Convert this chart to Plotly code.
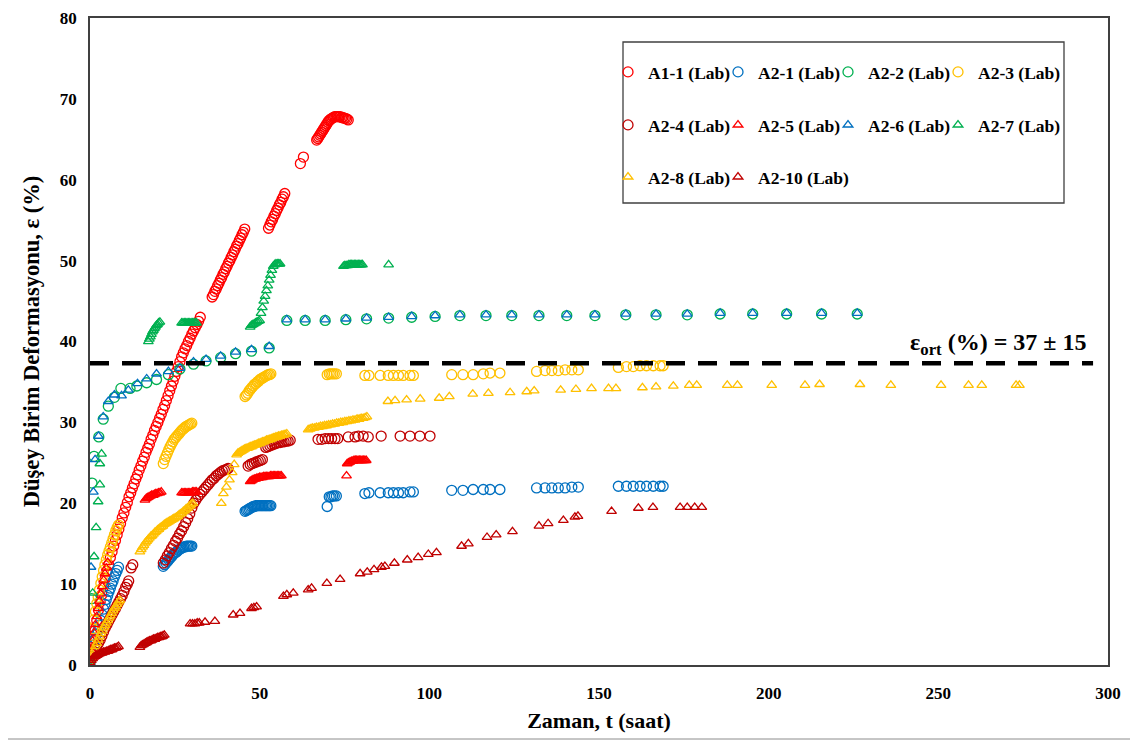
import plotly.graph_objects as go

# ---------------- data ----------------
# A1-1 (Lab) - red open circles
A1_1_X = [0, 0.5, 1, 1.5, 2, 2.5, 3, 3.5, 4, 4.5, 5, 5.5, 6, 6.5, 7, 7.5, 8, 8.5, 9, 9.5, 10, 10.5, 11, 11.5,
          12, 12.5, 13, 13.5, 14, 14.5, 15, 15.5, 16, 16.5, 17, 17.5, 18, 18.5, 19, 19.5, 20, 20.5, 21, 21.5,
          22, 22.5, 23, 23.5, 24, 24.5, 25, 25.5, 26, 26.5, 27, 27.5, 28, 28.5, 29, 29.5, 30, 30.5, 31, 31.5,
          32, 32.5,
          36.0, 36.4, 36.8, 37.2, 37.6, 38.0, 38.4, 38.8, 39.2, 39.6, 40.0, 40.4, 40.8, 41.2, 41.6, 42.0, 42.4,
          42.8, 43.2, 43.6, 44.0, 44.4, 44.8, 45.2, 45.6,
          52.6, 53.0, 53.4, 53.8, 54.2, 54.6, 55.0, 55.4, 55.8, 56.2, 56.6, 57.0, 57.4,
          62.0, 62.9,
          66.8, 67.1, 67.4, 67.7, 68.0, 68.3, 68.6, 68.9, 69.2, 69.5, 69.8, 70.1, 70.4, 70.7, 71.0, 71.3, 71.7,
          72.1, 72.5, 72.9, 73.3, 73.7, 74.1, 74.5, 74.9, 75.3, 75.7, 76.1]
A1_1_Y = [0.5, 1.8, 3.0, 4.3, 5.5, 6.8, 7.8, 8.7, 9.7, 10.7, 11.6, 12.4, 13.3, 14.0, 14.7, 15.4, 16.1, 16.8, 17.5,
          18.2, 18.8, 19.5, 20.1, 20.8, 21.3, 21.9, 22.4, 23.0, 23.5, 24.1, 24.6, 25.2, 25.7, 26.3, 26.8, 27.3,
          27.9, 28.4, 29.0, 29.5, 30.0, 30.5, 31.0, 31.6, 32.1, 32.7, 33.3, 33.9, 34.5, 35.1, 35.7, 36.3, 36.9,
          37.5, 38.1, 38.6, 39.1, 39.5, 40.0, 40.4, 40.9, 41.3, 41.7, 42.1, 42.5, 43.0,
          45.5, 45.8, 46.2, 46.5, 46.9, 47.2, 47.6, 47.9, 48.3, 48.6, 49.0, 49.3, 49.7, 50.0, 50.4, 50.7, 51.1,
          51.4, 51.8, 52.1, 52.5, 52.8, 53.2, 53.5, 53.9,
          54.0, 54.4, 54.8, 55.1, 55.5, 55.8, 56.2, 56.5, 56.9, 57.2, 57.6, 57.9, 58.3,
          62.0, 62.8,
          64.9, 65.1, 65.3, 65.5, 65.7, 65.9, 66.1, 66.3, 66.5, 66.7, 66.9, 67.1, 67.3, 67.4, 67.5, 67.6, 67.7,
          67.8, 67.8, 67.8, 67.8, 67.8, 67.7, 67.7, 67.6, 67.6, 67.5, 67.4]

# A2-1 (Lab) - blue open circles
A2_1_X = [0, 0.4, 0.8, 1.2, 1.6, 2.0, 2.4, 2.8, 3.2, 3.6, 4.0, 4.4, 4.8, 5.2, 5.6, 6.0, 6.4, 6.8, 7.2, 7.6, 8.0, 8.4,
          21.6, 22.0, 22.4, 22.8, 23.2, 23.6, 24.0, 24.4, 24.8, 25.2, 25.6, 26.0, 26.4, 26.8, 27.2, 27.6, 28.0,
          28.4, 28.8, 29.2, 29.6, 30.0,
          45.7, 46.1, 46.5, 46.9, 47.3, 47.7, 48.1, 48.5, 48.9, 49.3, 49.7, 50.1, 50.5, 50.9, 51.3, 51.7, 52.1,
          52.5, 52.9, 53.3,
          69.9, 70.5, 71.0, 71.5, 72.0, 72.6, 81.0, 82.2,
          85.5, 87.9, 89.4, 90.9, 92.3, 94.3, 95.3,
          106.6, 109.9, 112.9, 115.9, 117.9, 120.8,
          131.6, 134.1, 136.1, 138.0, 140.0, 142.0, 143.9,
          155.7, 158.1, 160.1, 162.1, 164.0, 166.0, 168.0, 168.9]
A2_1_Y = [0.3, 1.0, 1.7, 2.5, 3.2, 3.8, 4.3, 4.9, 5.5, 6.2, 6.9, 7.5, 8.1, 8.6, 9.1, 9.5, 10.0, 10.4, 10.9, 11.3,
          11.7, 12.1,
          12.2, 12.4, 12.6, 12.8, 13.0, 13.2, 13.4, 13.6, 13.8, 13.9, 14.0, 14.2, 14.3, 14.4, 14.5, 14.6, 14.6,
          14.7, 14.7, 14.7, 14.7, 14.7,
          19.0, 19.1, 19.2, 19.3, 19.4, 19.5, 19.6, 19.6, 19.7, 19.7, 19.7, 19.7, 19.7, 19.7, 19.7, 19.7, 19.7,
          19.7, 19.7, 19.7,
          19.6, 20.8, 20.8, 20.9, 20.9, 20.9, 21.2, 21.3,
          21.3, 21.3, 21.3, 21.3, 21.3, 21.4, 21.4,
          21.6, 21.6, 21.7, 21.7, 21.7, 21.7,
          21.9, 21.9, 21.9, 21.9, 21.9, 22.0, 22.0,
          22.1, 22.1, 22.1, 22.1, 22.1, 22.1, 22.1, 22.1]

# A2-2 (Lab) - green open circles
A2_2_X = [0, 0.5, 0.6, 1.2, 2.6, 3.9, 5.4, 7.2, 9.1, 11.8, 13.8, 16.7, 19.6, 23.1, 26.5, 30.5, 34.2, 38.5, 42.9,
          47.6, 52.8,
          58.0, 63.4, 69.3, 75.4, 81.5, 88.0, 94.8, 101.7, 109.0, 116.7, 124.3, 132.3, 140.5, 148.8, 157.9,
          166.8, 176.0, 185.7, 195.3, 205.3, 215.6, 226.1]
A2_2_Y = [0.5, 8.2, 22.5, 25.8, 28.2, 30.4, 32.0, 33.1, 34.2, 34.2, 34.5, 34.9, 35.3, 35.9, 36.6, 37.2, 37.6, 38.0,
          38.5, 38.8, 39.2,
          42.6, 42.6, 42.6, 42.7, 42.8, 42.9, 43.0, 43.1, 43.2, 43.2, 43.2, 43.2, 43.2, 43.2, 43.3, 43.3, 43.3,
          43.4, 43.4, 43.4, 43.4, 43.4]

# A2-3 (Lab) - gold open circles
A2_3_X = [0, 0.4, 0.8, 1.2, 1.6, 2.0, 2.4, 2.8, 3.2, 3.6, 4.0, 4.4, 4.8, 5.2, 5.6, 6.0, 6.4, 6.8, 7.2, 7.6, 8.0, 8.4,
          21.6, 22.0, 22.4, 22.8, 23.2, 23.6, 24.0, 24.4, 24.8, 25.2, 25.6, 26.0, 26.4, 26.8, 27.2, 27.6, 28.0,
          28.4, 28.8, 29.2, 29.6, 30.0,
          45.7, 46.1, 46.5, 46.9, 47.3, 47.7, 48.1, 48.5, 48.9, 49.3, 49.7, 50.1, 50.5, 50.9, 51.3, 51.7, 52.1,
          52.5, 52.9, 53.3,
          69.9, 70.5, 71.0, 71.5, 72.0, 72.6, 81.0, 82.2,
          85.5, 87.9, 89.4, 90.9, 92.3, 94.3, 95.3,
          106.6, 109.9, 112.9, 115.9, 117.9, 120.8,
          131.6, 134.1, 136.1, 138.0, 140.0, 142.0, 143.9,
          155.7, 158.1, 160.1, 162.1, 164.0, 166.0, 168.0, 168.9]
A2_3_Y = [0.5, 2.5, 4.5, 5.6, 6.6, 7.6, 8.4, 9.3, 10.1, 10.9, 11.7, 12.4, 13.0, 13.6, 14.1, 14.6, 15.1, 15.6, 16.1,
          16.6, 17.0, 17.3,
          24.9, 25.4, 25.8, 26.2, 26.6, 27.0, 27.3, 27.6, 27.9, 28.1, 28.3, 28.5, 28.7, 28.9, 29.1, 29.2, 29.4,
          29.5, 29.6, 29.7, 29.8, 29.9,
          33.2, 33.4, 33.6, 33.9, 34.1, 34.3, 34.5, 34.7, 34.8, 35.0, 35.1, 35.3, 35.4, 35.5, 35.6, 35.7, 35.8,
          35.9, 35.9, 36.0,
          35.9, 36.0, 36.0, 36.0, 36.0, 36.0, 35.8, 35.8,
          35.8, 35.8, 35.8, 35.8, 35.8, 35.8, 35.8,
          35.9, 35.9, 35.9, 36.0, 36.1, 36.1,
          36.3, 36.4, 36.4, 36.4, 36.5, 36.5, 36.5,
          36.8, 36.9, 36.9, 37.0, 37.0, 37.0, 37.0, 37.0]

# A2-4 (Lab) - dark red open circles
A2_4_X = [0, 0.5, 1.0, 1.5, 2.0, 2.5, 3.0, 3.5, 4.0, 4.5, 5.0, 5.5, 6.0, 6.5, 7.0, 7.5, 8.0, 8.5, 9.0, 9.5, 10.0,
          10.5, 11.0, 11.4, 12.1, 12.6,
          21.6, 22.2, 22.8, 23.4, 24.0, 24.6, 25.2, 25.8, 26.4, 27.0, 27.6, 28.2, 28.8, 29.4, 30.0, 30.6, 31.2,
          31.8, 32.4, 33.0, 33.6, 34.2, 34.8, 35.4, 36.0, 36.6, 37.2, 37.8, 38.4, 39.0, 39.6, 40.2, 40.7,
          46.6, 47.2, 47.8, 48.4, 49.0, 49.6, 50.2, 50.8, 51.8, 52.4, 53.0, 53.6, 54.2, 54.8, 55.4, 56.0, 56.6,
          57.2, 57.8, 58.4, 59.0,
          67.2, 68.3, 69.3, 70.3, 71.2, 72.2, 73.0,
          76.1, 78.1, 79.1, 80.5, 82.0,
          85.8, 91.4, 94.3, 97.2, 100.2]
A2_4_Y = [0.5, 1.0, 1.5, 2.0, 2.4, 2.7, 3.1, 3.6, 4.1, 4.6, 5.0, 5.4, 5.8, 6.2, 6.6, 7.0, 7.4, 7.8, 8.2, 8.6, 9.1,
          9.6, 10.0, 10.4, 12.0, 12.4,
          12.6, 13.0, 13.5, 13.9, 14.4, 14.8, 15.3, 15.7, 16.2, 16.6, 17.1, 17.6, 18.1, 18.7, 19.4, 20.0, 20.4,
          20.8, 21.1, 21.4, 21.7, 22.0, 22.3, 22.6, 22.9, 23.1, 23.4, 23.6, 23.8, 24.0, 24.1, 24.2, 24.3,
          24.6, 24.8, 24.9, 25.0, 25.1, 25.2, 25.3, 25.4, 26.9, 27.0, 27.1, 27.2, 27.3, 27.4, 27.5, 27.5, 27.6,
          27.6, 27.7, 27.7, 27.8,
          27.9, 27.9, 28.0, 28.0, 28.0, 28.0, 28.0,
          28.2, 28.2, 28.3, 28.3, 28.2,
          28.3, 28.3, 28.3, 28.3, 28.3]

# A2-5 (Lab) - red open triangles
A2_5_X = [0, 0.4, 0.8, 1.2, 1.6, 2.0, 2.4, 2.8, 3.2, 3.6, 4.0, 4.4, 4.8, 5.2,
          16.2, 16.6, 17.0, 17.4, 17.8, 18.2, 18.6, 19.0, 19.4, 19.8, 20.2, 20.6, 21.0,
          27.0, 27.4, 27.8, 28.2, 28.6, 29.0, 29.4, 29.8, 30.2, 30.6, 31.0, 31.4,
          47.2, 47.6, 48.0, 48.4, 48.8, 49.2, 49.6, 50.0, 50.4, 50.8, 51.2, 51.6, 52.0, 52.4, 52.8, 53.2, 53.6,
          54.0, 54.4, 54.8, 55.2, 55.6, 56.0, 56.4,
          75.6,
          75.8, 76.2, 76.6, 77.0, 77.4, 77.8, 78.2, 78.6, 79.0, 79.4, 79.8, 80.2, 80.6, 81.0, 81.4]
A2_5_Y = [0.5, 1.8, 3.0, 4.0, 5.0, 6.0, 7.0, 7.9, 8.8, 9.7, 10.5, 11.3, 12.0, 12.7,
          20.4, 20.6, 20.7, 20.8, 20.9, 21.0, 21.0, 21.1, 21.2, 21.2, 21.3, 21.3, 21.4,
          21.3, 21.3, 21.3, 21.3, 21.3, 21.3, 21.3, 21.3, 21.4, 21.4, 21.4, 21.4,
          22.7, 22.8, 22.9, 23.0, 23.0, 23.1, 23.1, 23.2, 23.2, 23.2, 23.3, 23.3, 23.3, 23.3, 23.3, 23.4, 23.4,
          23.4, 23.4, 23.4, 23.4, 23.4, 23.4, 23.4,
          23.4,
          24.9, 25.0, 25.1, 25.2, 25.2, 25.3, 25.3, 25.3, 25.3, 25.3, 25.3, 25.3, 25.3, 25.3, 25.3]

# A2-6 (Lab) - blue open triangles
A2_6_X = [0, 0.3, 1.0, 1.5, 2.5, 3.9, 5.4, 7.2, 9.3, 11.3, 14.0, 16.7, 19.6, 23.1, 26.5, 30.5, 34.2, 38.5, 42.9,
          47.6, 52.8,
          58.0, 63.4, 69.3, 75.4, 81.5, 88.0, 94.8, 101.7, 109.0, 116.7, 124.3, 132.3, 140.5, 148.8, 157.9,
          166.8, 176.0, 185.7, 195.3, 205.3, 215.6, 226.1]
A2_6_Y = [0.3, 12.1, 21.4, 25.4, 28.3, 30.7, 32.6, 33.4, 33.3, 34.0, 34.8, 35.4, 36.0, 36.3, 36.7, 37.5, 37.8, 38.2,
          38.7, 39.0, 39.4,
          42.7, 42.7, 42.7, 42.8, 42.9, 43.0, 43.1, 43.2, 43.3, 43.3, 43.3, 43.3, 43.3, 43.3, 43.4, 43.4, 43.4,
          43.5, 43.5, 43.5, 43.5, 43.5]

# A2-7 (Lab) - green open triangles
A2_7_X = [0, 0.8, 1.2, 1.8, 2.4, 2.9, 2.9, 3.4,
          17.2, 17.5, 17.8, 18.1, 18.4, 18.7, 19.0, 19.3, 19.6, 19.9, 20.2, 20.6,
          27.0, 27.4, 27.8, 28.2, 28.6, 29.0, 29.4, 29.8, 30.2, 30.6, 31.0, 31.4,
          47.2, 47.6, 48.0, 48.4, 48.8, 49.2, 49.6, 50.0, 50.4, 50.8, 51.2, 51.6, 52.0, 52.4, 52.8, 53.2, 53.6,
          54.0, 54.4, 54.8, 55.2, 55.6, 56.0,
          74.7, 75.1, 75.5, 75.9, 76.3, 76.7, 77.1, 77.5, 77.9, 78.3, 78.7, 79.1, 79.5, 79.9, 80.3,
          88.0]
A2_7_Y = [0.5, 8.9, 13.4, 17.0, 20.2, 22.3, 24.9, 26.1,
          40.0, 40.3, 40.6, 40.9, 41.2, 41.4, 41.6, 41.8, 42.0, 42.1, 42.3, 42.4,
          42.3, 42.3, 42.3, 42.3, 42.3, 42.3, 42.3, 42.3, 42.3, 42.3, 42.3, 42.3,
          41.8, 42.0, 42.1, 42.2, 42.3, 42.4, 42.5, 42.6, 43.5, 44.2, 45.0, 45.6, 46.3, 46.9, 47.6, 48.2, 48.8,
          49.3, 49.5, 49.6, 49.6, 49.6, 49.6,
          49.3, 49.4, 49.4, 49.4, 49.5, 49.5, 49.5, 49.5, 49.5, 49.5, 49.5, 49.5, 49.5, 49.5, 49.5,
          49.5]

# A2-8 (Lab) - gold open triangles
A2_8_X = [0, 0.4, 0.8, 1.2, 1.6, 2.0, 2.4, 2.8, 3.2, 3.6, 4.0, 4.4, 4.8, 5.2, 5.6, 6.0, 6.4, 6.8, 7.2, 7.6, 8.0, 8.4,
          8.8,
          14.7, 15.1, 15.5, 15.9, 16.3, 16.7, 17.1, 17.5, 17.9, 18.3, 18.7, 19.1, 19.5, 19.9, 20.3, 20.7, 21.1,
          21.5, 21.9, 22.3, 22.7, 23.1, 23.5, 23.9, 24.3, 24.7, 25.1, 25.5, 25.9, 26.3, 26.7, 27.1, 27.5, 27.9,
          28.3, 28.7, 29.1, 29.5, 29.9, 30.3,
          38.7, 39.3, 40.2, 41.1, 41.9, 42.5,
          43.2, 43.6, 44.0, 44.4, 44.8, 45.2, 45.6, 46.0, 46.4, 46.8, 47.2, 47.6, 48.0, 48.4, 48.8, 49.2, 49.6,
          50.0, 50.4, 50.8, 51.2, 51.6, 52.0, 52.4, 52.8, 53.2, 53.6, 54.0, 54.4, 54.8, 55.2, 55.6, 56.0, 56.4,
          56.8, 57.2, 57.6, 58.0,
          64.3, 64.9, 65.5, 66.1, 66.7, 67.3, 67.9, 68.5, 69.1, 69.7, 70.3, 70.9, 71.5, 72.1, 72.7, 73.3, 73.9,
          74.5, 75.1, 75.7, 76.3, 76.9, 77.5, 78.1, 78.7, 79.3, 79.9, 80.5, 81.1, 81.6,
          87.8, 89.9, 93.3, 97.3, 102.9, 105.9, 112.8, 117.4, 123.8, 128.7, 130.9, 138.7, 143.2, 147.8, 152.8,
          155.0, 162.8, 166.8, 171.9, 176.6, 178.8, 187.8, 190.8, 200.9, 210.7, 215.0, 226.9, 236.0, 250.8,
          258.9, 262.8, 272.9, 273.9]
A2_8_Y = [0.2, 0.8, 1.3, 1.8, 2.3, 2.7, 3.1, 3.5, 3.9, 4.2, 4.6, 4.9, 5.2, 5.5, 5.8, 6.1, 6.4, 6.7, 7.0, 7.2, 7.5,
          7.8, 8.0,
          14.0, 14.3, 14.6, 14.8, 15.1, 15.3, 15.5, 15.7, 15.9, 16.0, 16.2, 16.4, 16.5, 16.7, 16.8, 17.0, 17.1,
          17.2, 17.4, 17.5, 17.6, 17.7, 17.8, 17.9, 18.0, 18.1, 18.2, 18.3, 18.4, 18.6, 18.7, 18.8, 19.0, 19.1,
          19.3, 19.4, 19.6, 19.7, 19.9, 20.0,
          20.0, 21.2, 22.0, 22.9, 23.8, 24.8,
          26.0, 26.2, 26.3, 26.4, 26.5, 26.6, 26.7, 26.8, 26.8, 26.9, 27.0, 27.0, 27.1, 27.2, 27.2, 27.3, 27.4,
          27.4, 27.5, 27.6, 27.6, 27.7, 27.8, 27.8, 27.9, 27.9, 28.0, 28.1, 28.1, 28.2, 28.2, 28.3, 28.3, 28.4,
          28.4, 28.5, 28.5, 28.6,
          29.1, 29.2, 29.3, 29.3, 29.4, 29.4, 29.5, 29.5, 29.6, 29.6, 29.7, 29.7, 29.8, 29.8, 29.9, 29.9, 30.0,
          30.0, 30.1, 30.1, 30.2, 30.2, 30.3, 30.3, 30.4, 30.4, 30.5, 30.5, 30.6, 30.7,
          32.6, 32.7, 32.8, 32.9, 33.0, 33.2, 33.5, 33.6, 33.7, 33.8, 33.9, 34.0, 34.1, 34.2, 34.2,
          34.2, 34.3, 34.4, 34.5, 34.6, 34.6, 34.6, 34.6, 34.6, 34.6, 34.7, 34.7, 34.6, 34.6,
          34.6, 34.6, 34.6, 34.6]

# A2-10 (Lab) - dark red open triangles
A2_10_X = [0, 0.4, 0.8, 1.2, 1.6, 2.0, 2.4, 2.8, 3.2, 3.6, 4.0, 4.4, 4.8, 5.2, 5.6, 6.0, 6.4, 6.8, 7.2, 7.6, 8.0,
           8.4,
           14.7, 15.1, 15.5, 15.9, 16.3, 16.7, 17.1, 17.5, 17.9, 18.3, 18.7, 19.1, 19.5, 19.9, 20.3, 20.7, 21.1,
           21.5, 21.9,
           29.5, 30.2, 30.9, 31.6, 32.2, 33.9, 36.8, 42.2, 44.2, 47.6, 48.3, 49.1, 57.0, 58.0, 59.9, 64.3, 65.3,
           69.8, 73.7, 79.6, 81.7, 83.7, 85.9, 86.9, 89.7, 93.5, 96.7, 99.7, 102.1, 109.5, 111.5, 117.0, 119.7,
           124.5, 132.3, 135.0, 139.5, 142.9, 143.8, 153.7, 161.6, 165.9, 173.9, 176.0, 178.2, 180.3]
A2_10_Y = [0.3, 0.6, 0.8, 1.0, 1.1, 1.2, 1.3, 1.4, 1.5, 1.5, 1.6, 1.6, 1.7, 1.7, 1.8, 1.9, 1.9, 2.0, 2.1, 2.1, 2.2,
           2.3,
           2.2, 2.4, 2.5, 2.6, 2.7, 2.8, 2.9, 3.0, 3.0, 3.1, 3.2, 3.2, 3.3, 3.4, 3.4, 3.5, 3.5, 3.6, 3.7,
           5.1, 5.1, 5.1, 5.2, 5.2, 5.3, 5.4, 6.2, 6.4, 7.0, 7.1, 7.2, 8.5, 8.7, 8.9, 9.3, 9.5,
           10.1, 10.6, 11.3, 11.5, 11.8, 12.1, 12.2, 12.6, 13.0, 13.3, 13.7, 13.9, 14.7, 15.0, 15.8, 16.1,
           16.5, 17.2, 17.5, 17.9, 18.3, 18.4, 19.0, 19.4, 19.5, 19.5, 19.5, 19.5, 19.5]

# average strain line
EPS_AVG = 37.3
EPS_LINE_END = 295.6
EPS_LABEL = "ε<sub>ort</sub> (%) = 37 ± 15"

X_TICKS = [0, 50, 100, 150, 200, 250, 300]
Y_TICKS = [0, 10, 20, 30, 40, 50, 60, 70, 80]

# ---------------- styling ----------------
RED = "#FF0000"
BLUE = "#0070C0"
GREEN = "#00B050"
GOLD = "#FFC000"
DRED = "#C00000"
FONT = "'Liberation Serif', 'Times New Roman', 'DejaVu Serif', serif"

series = [
    ("A1-1 (Lab)", A1_1_X, A1_1_Y, "circle-open", RED, "legend"),
    ("A2-1 (Lab)", A2_1_X, A2_1_Y, "circle-open", BLUE, "legend"),
    ("A2-2 (Lab)", A2_2_X, A2_2_Y, "circle-open", GREEN, "legend"),
    ("A2-3 (Lab)", A2_3_X, A2_3_Y, "circle-open", GOLD, "legend"),
    ("A2-4 (Lab)", A2_4_X, A2_4_Y, "circle-open", DRED, "legend2"),
    ("A2-5 (Lab)", A2_5_X, A2_5_Y, "triangle-up-open", RED, "legend2"),
    ("A2-6 (Lab)", A2_6_X, A2_6_Y, "triangle-up-open", BLUE, "legend2"),
    ("A2-7 (Lab)", A2_7_X, A2_7_Y, "triangle-up-open", GREEN, "legend2"),
    ("A2-8 (Lab)", A2_8_X, A2_8_Y, "triangle-up-open", GOLD, "legend3"),
    ("A2-10 (Lab)", A2_10_X, A2_10_Y, "triangle-up-open", DRED, "legend3"),
]
LAST_IN_ROW = {"A2-3 (Lab)", "A2-7 (Lab)", "A2-10 (Lab)"}

fig = go.Figure()
for name, xs, ys, sym, col, leg in series:
    size = 10 if sym.startswith("circle") else 8.5
    kw = {}
    if name in LAST_IN_ROW:
        kw["legendwidth"] = 95
    fig.add_trace(go.Scatter(
        x=xs, y=ys, mode="markers", name="<b>" + name + "</b>", legend=leg,
        marker=dict(symbol=sym, size=size, color=col, line=dict(width=1.3, color=col)),
        **kw,
    ))

# the page body adds an 8 px offset; figure coordinates are screen coordinates minus 8
OFF = 8
W, H = 1130, 734
L, R, T, B = 82, 30, 10, 77
PW, PH = W - L - R, H - T - B


def px_x(p):
    return (p - OFF - L) / PW


def px_y(p):
    return (H - B - (p - OFF)) / PH


# average line + label
fig.add_shape(type="line", xref="x", yref="y", x0=0, x1=EPS_LINE_END, y0=EPS_AVG, y1=EPS_AVG,
              line=dict(color="black", width=4.5, dash="19px,13px"), layer="above")
fig.add_annotation(x=294.5, y=EPS_AVG, xref="x", yref="y", text="<b>" + EPS_LABEL + "</b>",
                   showarrow=False, xanchor="right", yanchor="bottom", yshift=2,
                   font=dict(family=FONT, size=24, color="black"))

# legend frame
fig.add_shape(type="rect", xref="paper", yref="paper",
              x0=px_x(623), x1=px_x(1064), y0=px_y(203), y1=px_y(42),
              line=dict(color="#404040", width=1.3), fillcolor="white", layer="below")

# outer border
fig.add_shape(type="rect", xref="paper", yref="paper",
              x0=px_x(1), x1=px_x(1136), y0=px_y(739), y1=px_y(1),
              line=dict(color="#8c8c8c", width=1), layer="below")

leg_common = dict(orientation="h", xanchor="left", yanchor="middle", bgcolor="rgba(0,0,0,0)",
                  entrywidth=65, entrywidthmode="pixels", itemwidth=30,
                  font=dict(family=FONT, size=17.5, color="black"))

fig.update_layout(
    width=W, height=H,
    margin=dict(l=L, r=R, t=T, b=B, autoexpand=False),
    paper_bgcolor="white", plot_bgcolor="white",
    showlegend=True,
    legend=dict(x=px_x(608), y=px_y(72), **leg_common),
    legend2=dict(x=px_x(608), y=px_y(125), **leg_common),
    legend3=dict(x=px_x(608), y=px_y(177), **leg_common),
    font=dict(family=FONT, color="black"),
)

fig.update_xaxes(
    range=[0, 300], tickvals=X_TICKS, ticktext=["<b>%d</b>" % v for v in X_TICKS],
    showgrid=False, zeroline=False, automargin=False,
    showline=True, linecolor="#404040", linewidth=1.5, mirror=True, ticks="",
    tickfont=dict(family=FONT, size=17, color="black"), ticklabelstandoff=12,
    title=dict(text="<b>Zaman, t (saat)</b>", font=dict(family=FONT, size=22, color="black"),
               standoff=10),
)
fig.update_yaxes(
    range=[0, 80], tickvals=Y_TICKS, ticktext=["<b>%d</b>" % v for v in Y_TICKS],
    showgrid=False, zeroline=False, automargin=False,
    showline=True, linecolor="#404040", linewidth=1.5, mirror=True, ticks="",
    tickfont=dict(family=FONT, size=17, color="black"), ticklabelstandoff=8,
    title=dict(text="<b>Düşey Birim Deformasyonu, ε (%)</b>",
               font=dict(family=FONT, size=22.5, color="black"), standoff=14),
)

fig.write_html("out.html")
